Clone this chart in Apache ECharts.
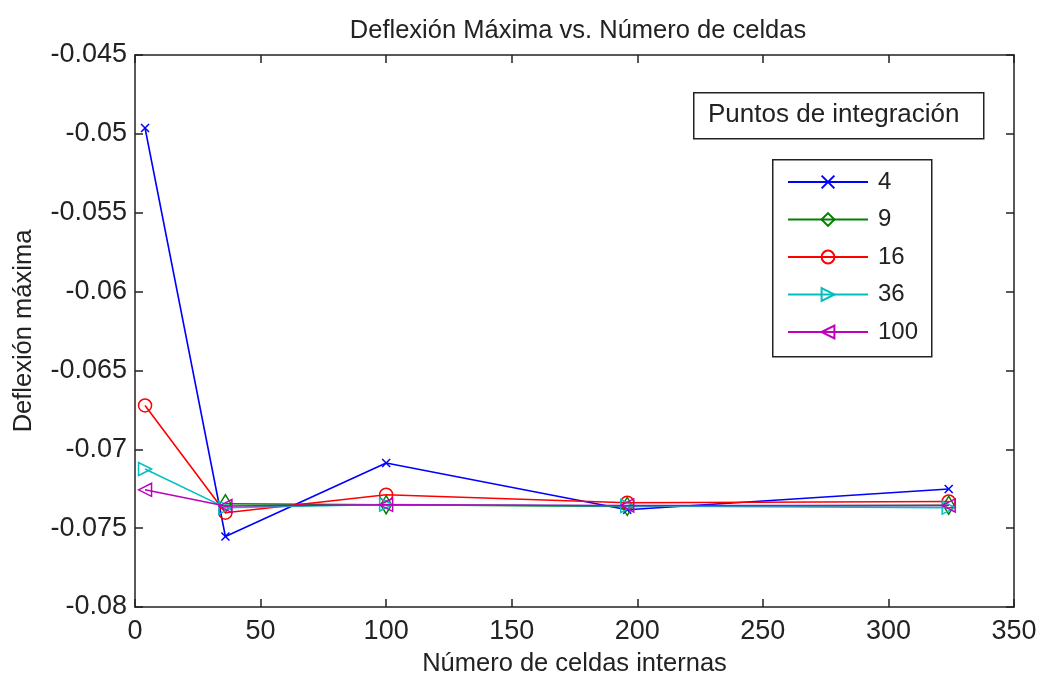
<!DOCTYPE html>
<html>
<head>
<meta charset="utf-8">
<script src="https://cdn.jsdelivr.net/npm/echarts@6/dist/echarts.min.js"></script>
<style>
html,body{margin:0;padding:0;background:#fff;}
#c{width:1040px;height:677px;}
</style>
</head>
<body>
<div id="c"></div>
<script>
const celdas = [4, 36, 100, 196, 324];
const p4   = [-0.04963, -0.07553, -0.07087, -0.07383, -0.07252];
const p9   = [null,     -0.07345, -0.07352, -0.07362, -0.07355];
const p16  = [-0.06722, -0.07402, -0.07288, -0.07339, -0.07331];
const p36  = [-0.07125, -0.07370, -0.07350, -0.07360, -0.07370];
const p100 = [-0.07257, -0.07360, -0.07352, -0.07356, -0.07356];
const seriesNames = ['4', '9', '16', '36', '100'];
const xTicks = [0, 50, 100, 150, 200, 250, 300, 350];
const yTicks = [-0.08, -0.075, -0.07, -0.065, -0.06, -0.055, -0.05, -0.045];

const FONT = "'Liberation Sans',Arial,sans-serif";
const colors = ['#0000ff', '#008000', '#ff0000', '#00bfbf', '#bf00bf'];
const symbols = [
  'path://M0,0L10,10M10,0L0,10',
  'diamond',
  'circle',
  'triangle',
  'triangle'
];
const symSizes = [[8, 8], [11, 18], [13, 13], [13, 13], [13, 13]];
const symRot = [0, 0, 0, -90, 90];
const allData = [p4, p9, p16, p36, p100];

function pairs(arr) {
  return celdas.map((x, i) => [x, arr[i]]).filter(d => d[1] !== null);
}

const series = allData.map((arr, i) => ({
  name: seriesNames[i],
  type: 'line',
  data: pairs(arr),
  symbol: symbols[i],
  symbolSize: symSizes[i],
  symbolRotate: symRot[i],
  lineStyle: { color: colors[i], width: 1.6 },
  itemStyle: { color: 'rgba(0,0,0,0)', borderColor: colors[i], borderWidth: 1.5 },
  emphasis: { disabled: true },
  animation: false,
  z: 2 + i
}));

const tickStyle = { fontFamily: FONT, fontSize: 27, color: '#222' };
const nameStyle = { fontFamily: FONT, fontSize: 25.5, color: '#222' };

const chart = echarts.init(document.getElementById('c'), null, { renderer: 'canvas' });
chart.setOption({
  backgroundColor: '#fff',
  animation: false,
  title: {
    text: 'Deflexión Máxima vs. Número de celdas',
    left: 573, top: 13, textAlign: 'center',
    textStyle: { fontFamily: FONT, fontSize: 25.5, fontWeight: 'normal', color: '#222' }
  },
  grid: { left: 135, right: 26, top: 55, bottom: 70, show: false, containLabel: false, outerBoundsMode: 'none' },
  legend: {
    data: seriesNames,
    orient: 'vertical',
    left: 787, top: 170,
    itemWidth: 80, itemHeight: 16, itemGap: 13.5,
    textStyle: { fontFamily: FONT, fontSize: 24, color: '#222', lineHeight: 24, padding: [0, 0, 0, 5] },
    padding: 0
  },
  xAxis: [{
    type: 'value', min: 0, max: 350, interval: 50,
    name: 'Número de celdas internas', nameLocation: 'middle', nameGap: 44,
    nameTextStyle: nameStyle,
    axisLine: { show: true, onZero: false, lineStyle: { color: '#222', width: 1.5 } },
    axisTick: { show: true, inside: true, length: 8, lineStyle: { color: '#222', width: 1.5 } },
    axisLabel: Object.assign({ margin: 11, formatter: v => String(v) }, tickStyle),
    splitLine: { show: false }
  }, {
    type: 'value', min: 0, max: 350, interval: 50, position: 'top',
    axisLine: { show: true, onZero: false, lineStyle: { color: '#222', width: 1.5 } },
    axisTick: { show: true, inside: true, length: 8, lineStyle: { color: '#222', width: 1.5 } },
    axisLabel: { show: false }, splitLine: { show: false }
  }],
  yAxis: [{
    type: 'value', min: -0.08, max: -0.045, interval: 0.005,
    name: 'Deflexión máxima', nameLocation: 'middle', nameGap: 98, nameRotate: 90,
    nameTextStyle: nameStyle,
    axisLine: { show: true, onZero: false, lineStyle: { color: '#222', width: 1.5 } },
    axisTick: { show: true, inside: true, length: 8, lineStyle: { color: '#222', width: 1.5 } },
    axisLabel: Object.assign({ margin: 8, formatter: v => String(parseFloat(v.toFixed(3))) }, tickStyle),
    splitLine: { show: false }
  }, {
    type: 'value', min: -0.08, max: -0.045, interval: 0.005, position: 'right',
    axisLine: { show: true, onZero: false, lineStyle: { color: '#222', width: 1.5 } },
    axisTick: { show: true, inside: true, length: 8, lineStyle: { color: '#222', width: 1.5 } },
    axisLabel: { show: false }, splitLine: { show: false }
  }],
  graphic: [
    {
      type: 'rect', left: 693, top: 92, z: 10,
      shape: { width: 290, height: 46 },
      style: { fill: '#fff', stroke: '#222', lineWidth: 1.5 }
    },
    {
      type: 'text', left: 708, top: 102, z: 11,
      style: { text: 'Puntos de integración', font: "26px " + FONT, fill: '#222' }
    },
    {
      type: 'rect', left: 772, top: 159, z: 0,
      shape: { width: 159, height: 197 },
      style: { fill: '#fff', stroke: '#222', lineWidth: 1.5 }
    }
  ],
  series: series
});
</script>
</body>
</html>
